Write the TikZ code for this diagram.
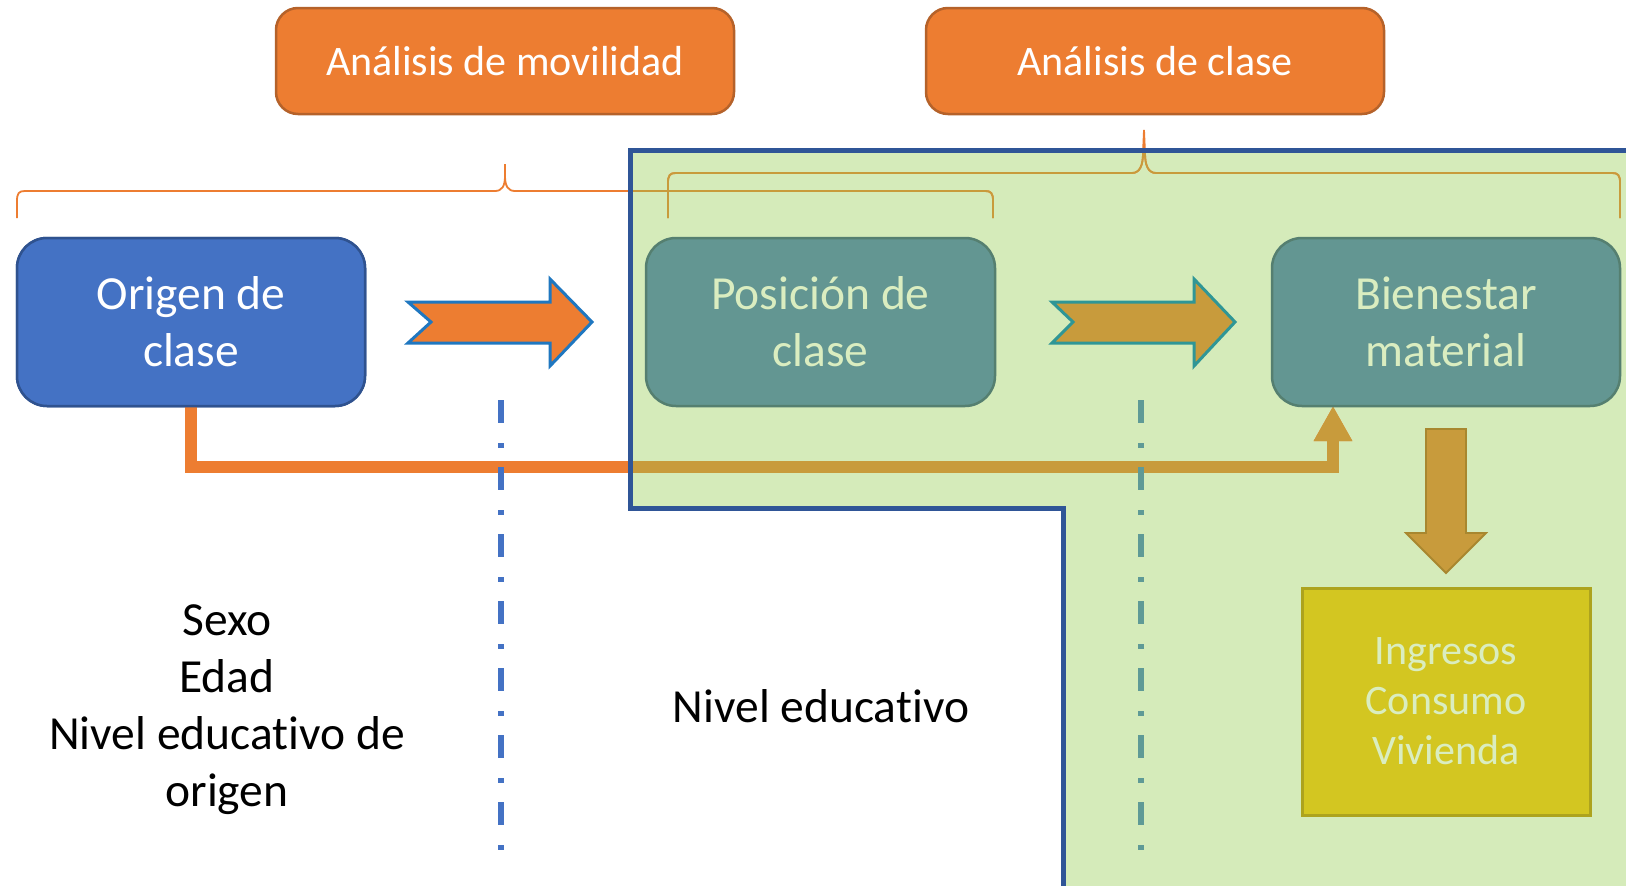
\documentclass[tikz,border=0pt]{standalone}
\usepackage{fontspec}
\setmainfont{Carlito}[Ligatures=NoCommon, RawFeature={-liga;-clig;-dlig}]
\usetikzlibrary{arrows.meta}
\definecolor{orangeF}{HTML}{ED7D31}
\definecolor{orangeD}{HTML}{B5622A}
\definecolor{blueF}{HTML}{4472C4}
\definecolor{blueD}{HTML}{2F528F}
\definecolor{tealF}{HTML}{639692}
\definecolor{tealD}{HTML}{557F70}
\definecolor{paleG}{HTML}{DAEDC0}
\definecolor{greenF}{HTML}{D5EBBA}
\definecolor{borderB}{HTML}{2F5597}
\definecolor{goldF}{HTML}{C89B3C}
\definecolor{goldD}{HTML}{A8872F}
\definecolor{yellowF}{HTML}{D3C621}
\definecolor{yellowD}{HTML}{ADA31E}
\definecolor{arrowB}{HTML}{1F77C0}
\definecolor{arrowT}{HTML}{2F9696}
\definecolor{dashT}{HTML}{5F9A96}
\tikzset{
  hbox/.style={draw=orangeD, line width=2.5pt, fill=orangeF, rounded corners=22pt,
    minimum width=458pt, minimum height=106pt, inner sep=0pt, text=white,
    font=\fontsize{42}{50}\selectfont},
  mainbox/.style={line width=2.5pt, rounded corners=30pt, minimum width=348pt,
    minimum height=168pt, inner sep=0pt, align=center,
    font=\fontsize{47.5}{57}\selectfont},
  bluebox/.style={mainbox, draw=blueD, fill=blueF, text=white},
  tealbox/.style={mainbox, draw=tealD, fill=tealF, text=paleG},
  ybox/.style={draw=yellowD, line width=3pt, fill=yellowF, text=paleG,
    minimum width=288pt, minimum height=227pt, inner sep=0pt, align=center,
    font=\fontsize{42}{50}\selectfont},
  txt/.style={inner sep=0pt, align=center, text=black,
    font=\fontsize{47.5}{57}\selectfont},
  bracel/.style={line width=1.8pt},
  conn/.style={line width=12pt, -{Triangle[width=36pt,length=35pt]}},
  dashdot/.style={line width=5.5pt, dash pattern=on 23pt off 20pt on 5pt off 19pt},
}
\begin{document}
\begin{tikzpicture}[x=1pt,y=-1pt]
\useasboundingbox (0,0) rectangle (1626,886);
\fill[white] (0,0) rectangle (1626,886);
% green region
\fill[greenF] (629,151) -- (1626,151) -- (1626,886) -- (1063,886) -- (1063,507) -- (629,507) -- cycle;
% braces (orange)
\draw[bracel, orangeF] (17,218) -- (17,201) .. controls (17,193) and (19,191) .. (25,191)
  -- (495,191) .. controls (502,191) and (505,186) .. (505,176) -- (505,164)
  -- (505,176) .. controls (505,186) and (508,191) .. (515,191)
  -- (985,191) .. controls (991,191) and (993,193) .. (993,201) -- (993,218);
\draw[bracel, orangeF] (668,218) -- (668,183) .. controls (668,175) and (670,173) .. (676,173)
  -- (1132,173) .. controls (1140,173) and (1143,165) .. (1143,153) -- (1144,130)
  -- (1145,153) .. controls (1145,165) and (1148,173) .. (1156,173)
  -- (1612,173) .. controls (1618,173) and (1620,175) .. (1620,183) -- (1620,218);
% connector
\node[bluebox] (orig) at (191,322) {Origen de\\clase};
\coordinate (cend) at (1333,406);
\draw[conn, orangeF] (orig.south) -- ++(0,60) -| (cend);
\begin{scope}
\clip (629,151) -- (1626,151) -- (1626,886) -- (1063,886) -- (1063,507) -- (629,507) -- cycle;
\draw[bracel, goldF] (17,218) -- (17,201) .. controls (17,193) and (19,191) .. (25,191)
  -- (495,191) .. controls (502,191) and (505,186) .. (505,176) -- (505,164)
  -- (505,176) .. controls (505,186) and (508,191) .. (515,191)
  -- (985,191) .. controls (991,191) and (993,193) .. (993,201) -- (993,218);
\draw[bracel, goldF] (668,218) -- (668,183) .. controls (668,175) and (670,173) .. (676,173)
  -- (1132,173) .. controls (1140,173) and (1143,165) .. (1143,153) -- (1144,130)
  -- (1145,153) .. controls (1145,165) and (1148,173) .. (1156,173)
  -- (1612,173) .. controls (1618,173) and (1620,175) .. (1620,183) -- (1620,218);
\draw[conn, goldF] (orig.south) -- ++(0,60) -| (cend);
\end{scope}
% redraw origin box on top
\node[bluebox] at (191,322) {Origen de\\clase};
% dash-dot lines
\draw[dashdot, blueF] (501,400) -- (501,852);
\draw[dashdot, dashT] (1141,400) -- (1141,852);
% border of green region
\draw[borderB, line width=5pt] (1626,150.5) -- (630,150.5) -- (630,508) -- (1063,508) -- (1063,886);
% header boxes
\node[hbox] (mov) at (505,61) {Análisis de movilidad};
\node[hbox] (cla) at (1155,61) {Análisis de clase};
% main boxes
\node[tealbox, minimum width=349pt] (pos) at (820.5,322) {Posición de\\clase};
\node[tealbox] (bien) at (1446,322) {Bienestar\\material};
\node[ybox] (ing) at (1446,701.5) {Ingresos\\Consumo\\Vivienda};
% texts
\node[txt] (vars) at (227,710) {Sexo\\Edad\\Nivel educativo de\\origen};
\node[txt] (niv) at (821,706) {Nivel educativo};
% block arrows
\draw[fill=orangeF, draw=arrowB, line width=3pt, line join=miter]
  (408,302) -- (550,302) -- (550,279) -- (592,322) -- (550,366) -- (550,343) -- (408,343) -- (431,322) -- cycle;
\draw[fill=goldF, draw=arrowT, line width=3pt, line join=miter]
  (1052,302) -- (1194,302) -- (1194,279) -- (1235,322) -- (1194,366) -- (1194,343) -- (1052,343) -- (1073,322) -- cycle;
\draw[fill=goldF, draw=goldD, line width=1.8pt]
  (1426,429) -- (1466,429) -- (1466,533) -- (1486,533) -- (1446,573) -- (1406,533) -- (1426,533) -- cycle;
\end{tikzpicture}
\end{document}
